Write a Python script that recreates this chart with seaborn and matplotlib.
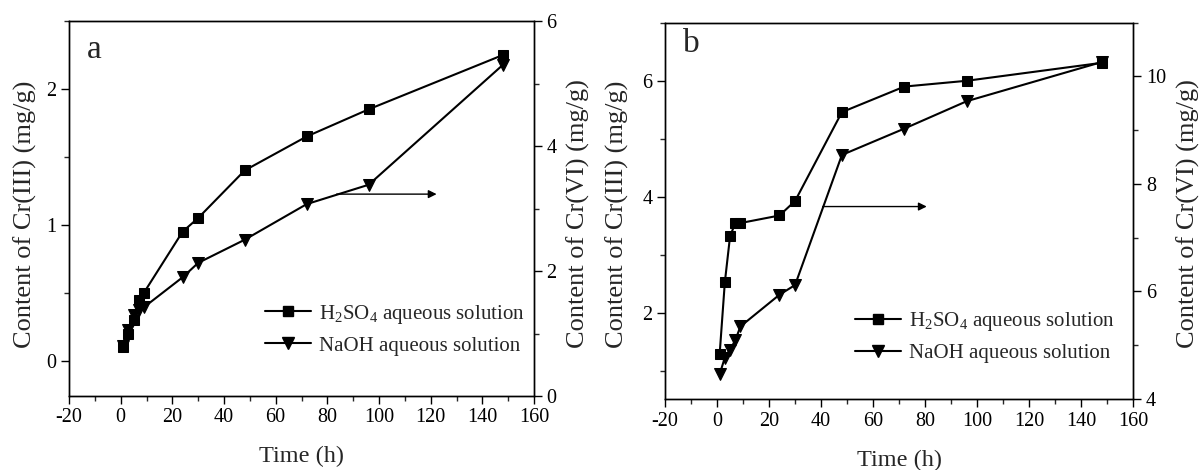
import matplotlib
matplotlib.use("Agg")
import matplotlib.pyplot as plt
from matplotlib.lines import Line2D
from matplotlib.ticker import MultipleLocator, FuncFormatter
import seaborn as sns
import pandas as pd

# ---------------- data ----------------
time_h = [1, 3, 5, 7, 9, 24, 30, 48, 72, 96, 148]

# panel a
a_h2so4_cr3 = [0.10, 0.20, 0.30, 0.45, 0.50, 0.95, 1.05, 1.40, 1.65, 1.85, 2.25]
a_naoh_cr6 = [0.80, 1.05, 1.30, 1.38, 1.42, 1.90, 2.13, 2.50, 3.07, 3.38, 5.30]

# panel b
b_h2so4_cr3 = [1.29, 2.53, 3.32, 3.55, 3.55, 3.68, 3.93, 5.46, 5.90, 6.00, 6.31]
b_naoh_cr6 = [4.46, 4.77, 4.92, 5.09, 5.35, 5.94, 6.12, 8.54, 9.03, 9.54, 10.27]

series_labels = ["H$_2$SO$_4$ aqueous solution", "NaOH aqueous solution"]
panel_letters = ["a", "b"]
xlabel = "Time (h)"
ylabel_left = "Content of Cr(III) (mg/g)"
ylabel_right = "Content of Cr(VI) (mg/g)"

# ---------------- style ----------------
sns.set_style("ticks")
plt.rcParams["font.family"] = ["Liberation Serif", "DejaVu Serif"]
plt.rcParams["mathtext.fontset"] = "custom"
plt.rcParams["mathtext.rm"] = "Liberation Serif"
plt.rcParams["axes.linewidth"] = 1.0

TICK_FS = 14.5
XLABEL_FS = 17.5
YLABEL_FS = 19
LEG_FS = 15

fig = plt.figure(figsize=(12.01, 4.70), dpi=100)

W, H = 1201.0, 470.0


def box(l, t, r, b):
    return [l / W, 1 - b / H, (r - l) / W, (b - t) / H]


def style_axis(ax):
    ax.tick_params(axis="both", which="major", direction="out", length=6,
                   width=1.0, labelsize=TICK_FS, colors="black", pad=3)
    ax.tick_params(axis="both", which="minor", direction="out", length=3.5,
                   width=1.0)
    for s in ax.spines.values():
        s.set_visible(True)
        s.set_color("black")
        s.set_linewidth(1.0)


fmt = FuncFormatter(lambda v, p: f"{v:.0f}")


def panel(px, y1, y2, ylim1, ylim2, maj1, min1, maj2, min2, letter,
          letter_xy, arrow, legend_anchor, label_px):
    l, t, r, b = px
    ax = fig.add_axes(box(l, t, r, b))
    df1 = pd.DataFrame({"t": time_h, "v": y1})
    df2 = pd.DataFrame({"t": time_h, "v": y2})
    sns.lineplot(data=df1, x="t", y="v", ax=ax, color="black", linewidth=1.5,
                 marker="s", markersize=7, markeredgecolor="black",
                 markerfacecolor="black", legend=False)
    ax2 = ax.twinx()
    sns.lineplot(data=df2, x="t", y="v", ax=ax2, color="black", linewidth=1.5,
                 marker="v", markersize=8.5, markeredgecolor="black",
                 markerfacecolor="black", legend=False)

    ax.set_xlim(-20, 160)
    ax.set_ylim(*ylim1)
    ax2.set_ylim(*ylim2)
    ax.xaxis.set_major_locator(MultipleLocator(20))
    ax.xaxis.set_minor_locator(MultipleLocator(10))
    ax.yaxis.set_major_locator(MultipleLocator(maj1))
    ax.yaxis.set_minor_locator(MultipleLocator(min1))
    ax2.yaxis.set_major_locator(MultipleLocator(maj2))
    ax2.yaxis.set_minor_locator(MultipleLocator(min2))
    ax.xaxis.set_major_formatter(fmt)
    ax.yaxis.set_major_formatter(fmt)
    ax2.yaxis.set_major_formatter(fmt)
    style_axis(ax)
    style_axis(ax2)
    ax.tick_params(axis="x", which="both", top=False)

    wpx, hpx = r - l, b - t
    xl_y, yl_x, yr_x, yl_c = label_px
    ax.set_xlabel(xlabel, fontsize=XLABEL_FS, va="center")
    ax.xaxis.set_label_coords(0.5, 1 - (xl_y - t) / hpx)
    ax.set_ylabel(ylabel_left, fontsize=YLABEL_FS, va="center")
    ax.yaxis.set_label_coords((yl_x - l) / wpx, 1 - (yl_c - t) / hpx)
    ax2.set_ylabel(ylabel_right, fontsize=YLABEL_FS, va="center")
    ax2.yaxis.set_label_coords((yr_x - l) / wpx, 1 - (yl_c - t) / hpx)

    ax.text(letter_xy[0], letter_xy[1], letter, transform=fig.transFigure,
            fontsize=24, ha="left", va="center")

    ax2.annotate("", xy=(arrow[1], arrow[2]), xytext=(arrow[0], arrow[2]),
                 arrowprops=dict(arrowstyle="-|>", color="black", lw=1.0,
                                 mutation_scale=12, shrinkA=0, shrinkB=0))

    handles = [
        Line2D([], [], color="black", lw=1.5, marker="s", markersize=7),
        Line2D([], [], color="black", lw=1.5, marker="v", markersize=8.5),
    ]
    ax2.legend(handles, series_labels, loc="center left",
               bbox_to_anchor=legend_anchor,
               bbox_transform=fig.transFigure, frameon=False,
               fontsize=LEG_FS, handlelength=2.2, handletextpad=0.4,
               borderpad=0, borderaxespad=0, labelspacing=0.5,
               numpoints=1)
    return ax, ax2


panel((69, 21, 534, 396), a_h2so4_cr3, a_naoh_cr6,
      (-0.26, 2.5), (0, 6), 1, 0.5, 2, 1, panel_letters[0],
      (87 / W, 1 - 50 / H), (83.6, 122.3, 3.23),
      (265 / W, 1 - 329 / H), (456, 25, 578, 214))

panel((665, 22.7, 1133.3, 399), b_h2so4_cr3, b_naoh_cr6,
      (0.52, 7.0), (4, 11), 2, 1, 2, 1, panel_letters[1],
      (683 / W, 1 - 44 / H), (40.6, 80.6, 7.58),
      (855 / W, 1 - 336.7 / H), (460, 617, 1188, 214))

fig.savefig("out.png", dpi=100)
